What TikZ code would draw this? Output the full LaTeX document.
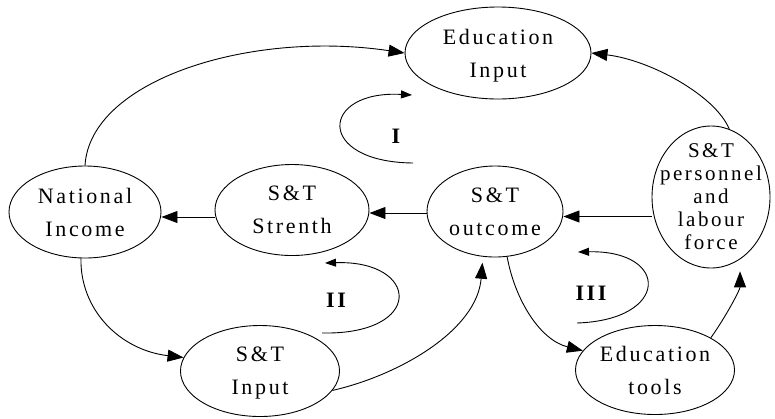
\documentclass[tikz,border=0pt]{standalone}
\usepackage{fontspec}
\setmainfont{Liberation Serif}
\newfontfamily\nodefont{Liberation Serif}[LetterSpace=12]
\usetikzlibrary{shapes.geometric,arrows.meta}
\tikzset{
  state/.style={draw, ellipse, line width=0.9pt, inner sep=-12pt, align=center,
    font=\nodefont\fontsize{22}{33}\selectfont, text depth=0pt},
  conn/.style={line width=0.9pt, -{Triangle[length=16pt,width=12pt]}},
  loopc/.style={line width=0.9pt, -{Triangle[length=11pt,width=8pt]}},
  looplab/.style={font=\nodefont\bfseries\fontsize{22}{25}\selectfont},
}
\begin{document}
\begin{tikzpicture}[x=1pt,y=-1pt]
\useasboundingbox (0,0) rectangle (775,418);
% nodes
\node[state, minimum width=186pt, minimum height=92pt] (ei) at (498,53) {Education\\Input};
\node[state, minimum width=152pt, minimum height=92pt] (ni) at (85,212) {National\\Income};
\node[state, minimum width=154pt, minimum height=91pt] (ss) at (292,210) {S\&T\\Strenth};
\node[state, minimum width=136pt, minimum height=91pt] (so) at (495,211.5) {S\&T\\outcome};
\node[state, minimum width=118pt, minimum height=142pt, inner sep=-20pt,
      font=\nodefont\fontsize{21}{23}\selectfont] (sp) at (711,197) {S\&T\\personnel\\and\\labour\\force};
\node[state, minimum width=159pt, minimum height=91pt] (si) at (260,371) {S\&T\\Input};
\node[state, minimum width=159pt, minimum height=89pt] (et) at (655,370) {Education\\tools};
% helper points for the straight connectors
\coordinate (h1) at ([yshift=-5pt]so.east);
\coordinate (h2) at ([yshift=-3pt]ss.east);
\coordinate (h3) at ([yshift=-5pt]ni.east);
% connectors
\draw[conn] (ni.north) .. controls (90,80) and (250,30) .. (ei.west);
\draw[conn] (sp.75) .. controls (715,95) and (650,60) .. (ei.east);
\draw[conn] (h1 -| sp.west) -- (h1);
\draw[conn] (h2 -| so.west) -- (h2);
\draw[conn] (h3 -| ss.west) -- (h3);
\draw[conn] (ni.265) .. controls (80,310) and (120,350) .. (si.170);
\draw[conn, shorten >=6pt] (si.-15) .. controls (400,375) and (477,330) .. (so.255);
\draw[conn] (so.285) .. controls (515,300) and (540,340) .. (et.165);
\draw[conn, shorten >=12pt] (et.30) .. controls (725,318) and (740,290) .. (sp.-65);
% loops
\coordinate (l1s) at (413,163);
\coordinate (l1e) at (412,95);
\coordinate (l2s) at (322,333);
\coordinate (l2e) at (325,263);
\coordinate (l3s) at (577,323);
\coordinate (l3e) at (578,252);
\draw[loopc] (l1s) .. controls (315,162) and (320,90) .. (l1e);
\draw[loopc] (l2s) .. controls (425,335) and (420,260) .. (l2e);
\draw[loopc] (l3s) .. controls (670,320) and (670,250) .. (l3e);
\node[looplab] (lab1) at (396,136) {I};
\node[looplab] (lab2) at (336,300) {II};
\node[looplab] (lab3) at (591,293) {III};
\end{tikzpicture}
\end{document}
